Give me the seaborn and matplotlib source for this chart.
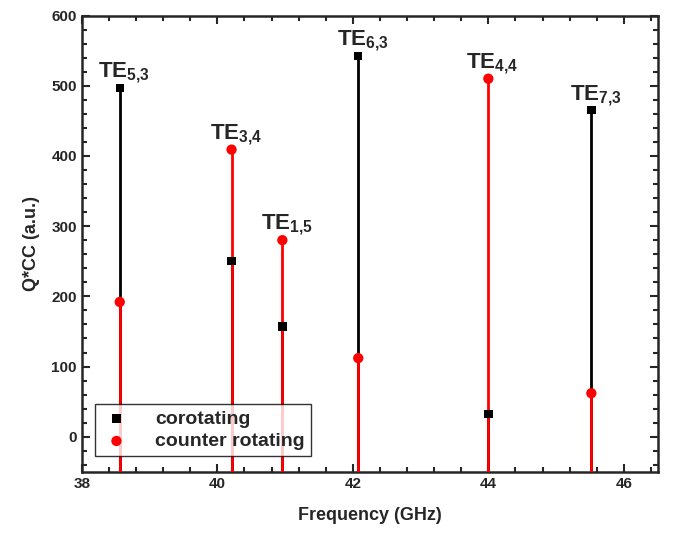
import numpy as np
import pandas as pd
import seaborn as sns
import matplotlib.pyplot as plt
from matplotlib.ticker import MultipleLocator, AutoMinorLocator

# --- Data ---
modes = ["5,3", "3,4", "1,5", "6,3", "4,4", "7,3"]
freq = [38.56, 40.21, 40.96, 42.08, 44.00, 45.52]
corotating = [497, 250, 157, 542, 32, 465]
counter_rotating = [192, 409, 280, 112, 510, 62]

sns.set_style("ticks")
plt.rcParams["font.family"] = ["Liberation Sans", "DejaVu Sans"]
plt.rcParams["font.weight"] = "bold"
plt.rcParams["axes.labelweight"] = "bold"
plt.rcParams["mathtext.fontset"] = "custom"
plt.rcParams["mathtext.rm"] = "Liberation Sans:bold"
plt.rcParams["mathtext.bf"] = "Liberation Sans:bold"
plt.rcParams["mathtext.it"] = "Liberation Sans:bold"

co = pd.DataFrame({"freq": freq, "value": corotating, "type": "corotating"})
cr = pd.DataFrame({"freq": freq, "value": counter_rotating, "type": "counter rotating"})

fig, ax = plt.subplots(figsize=(6.76, 5.35), dpi=100)
ymin = -50

# drop lines: black for corotating, red (on top) for counter rotating
ax.vlines(freq, ymin, corotating, color="black", lw=2, zorder=2)
ax.vlines(freq, ymin, counter_rotating, color="red", lw=2, zorder=3)

sns.scatterplot(data=co, x="freq", y="value", color="black", marker="s",
                s=36, edgecolor="none", zorder=4, ax=ax, label="corotating")
sns.scatterplot(data=cr, x="freq", y="value", color="red", marker="o",
                s=55, edgecolor="none", zorder=4, ax=ax, label="counter rotating")

# mode labels above the taller marker
for f, m, a, b in zip(freq, modes, corotating, counter_rotating):
    sub = m.replace(",", "{,}")
    ax.annotate(f"TE$_{{{sub}}}$", (f, max(a, b)),
                xytext=(3, 2), textcoords="offset points",
                ha="center", va="bottom", fontsize=16, fontweight="bold")

ax.set_xlim(38, 46.5)
ax.set_ylim(ymin, 600)
ax.xaxis.set_major_locator(MultipleLocator(2))
ax.xaxis.set_minor_locator(AutoMinorLocator(5))
ax.yaxis.set_major_locator(MultipleLocator(100))
ax.yaxis.set_minor_locator(AutoMinorLocator(5))
ax.tick_params(which="both", direction="in", top=True, right=True, width=1.5)
ax.tick_params(which="major", length=6, labelsize=11)
ax.tick_params(which="minor", length=3.5)
for lbl in ax.get_xticklabels() + ax.get_yticklabels():
    lbl.set_fontweight("bold")
for sp in ax.spines.values():
    sp.set_linewidth(1.8)

ax.set_xlabel("Frequency (GHz)", fontsize=13, labelpad=12)
ax.set_ylabel("Q*CC (a.u.)", fontsize=13, labelpad=8)

leg = ax.legend(loc="lower left", bbox_to_anchor=(0.023, 0.035), fontsize=14,
                frameon=True, fancybox=False, edgecolor="black",
                handletextpad=1.2, borderpad=0.3, labelspacing=0.25,
                borderaxespad=0, handlelength=1.6)
leg.get_frame().set_linewidth(1.0)
for t in leg.get_texts():
    t.set_fontweight("bold")

fig.subplots_adjust(left=0.121, right=0.973, top=0.971, bottom=0.118)
fig.savefig("out.png", dpi=100)
